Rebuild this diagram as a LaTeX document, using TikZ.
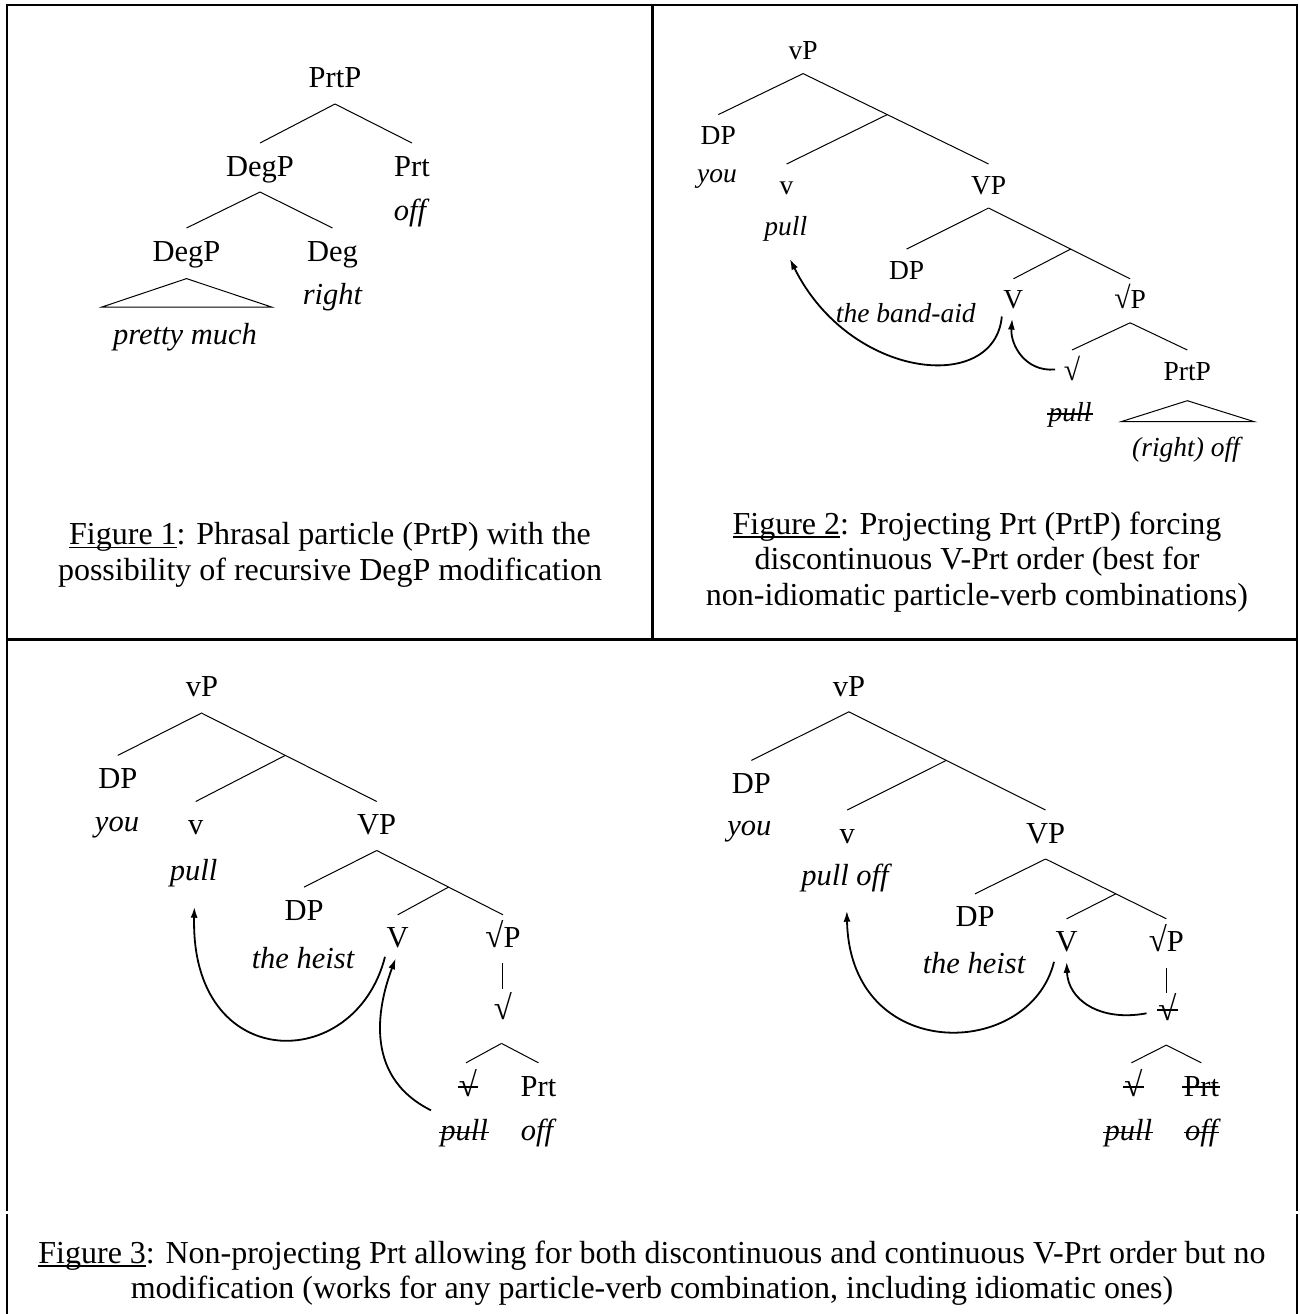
\documentclass[tikz,border=0pt]{standalone}
\usepackage{fontspec}
\setmainfont{Liberation Serif}
\usetikzlibrary{arrows.meta,calc}
\newcommand\brA[2]{\draw[branch] ($(#1.base)+(0,16)$) -- ($(#2.base)+(0,-33)$);}
\newcommand\brB[2]{\draw[branch] ($(#1.base)+(0,14)$) -- ($(#2.base)+(0,-30)$);}
\newcommand\strikeit[2]{\draw[strikel] ($(#1.base west)+(-1,-#2)$) -- ($(#1.base east)+(1,-#2)$);}
\newcommand\ulfig[1]{\setbox0\hbox{#1}\rlap{\rule[-3.5pt]{\wd0}{1.6pt}}\box0}
\newcommand\rt{\scalebox{1.08}[1.12]{√}}
\begin{document}
\begin{tikzpicture}[x=1pt,y=-1pt,
  lab/.style={inner sep=0pt,anchor=base},
  fa/.style={lab,font=\fontsize{30.5}{36}\selectfont},
  fb/.style={lab,font=\fontsize{27.5}{33}\selectfont},
  branch/.style={line width=1pt},
  strikel/.style={line width=1.6pt},
  mv/.style={line width=1.8pt,-{Latex[length=11pt,width=7pt]}},
  framel/.style={line width=2.5pt},
  divider/.style={line width=3pt},
  captext/.style={font=\fontsize{32}{35.5}\selectfont,align=center,inner sep=0pt}]
\useasboundingbox (0,0) rectangle (1299,1314);
% frame
\draw[framel] (7,1211) -- (7,5) -- (1297,5) -- (1297,1211);
\draw[framel] (7,1214) -- (7,1320);
\draw[framel] (1297,1214) -- (1297,1320);
\draw[divider] (7,639.5) -- (1297,639.5);
\draw[divider] (652.7,5) -- (652.7,639.5);

% ---------------- Figure 1 ----------------
\node[fa] (a-root) at (335,88) {PrtP};
\node[fa] (a-deg) at (260,176) {DegP};
\node[fa] (a-prt) at (412,176) {Prt};
\node[fa] (a-off) at (410,220) {\itshape off};
\node[fa] (a-deg2) at (186.5,261) {DegP};
\node[fa] (a-dg) at (332.5,261) {Deg};
\node[fa] (a-right) at (332.5,304.5) {\itshape right};
\node[fa] (a-pm) at (185,344) {\itshape pretty much};
\brA{a-root}{a-deg}
\brA{a-root}{a-prt}
\brA{a-deg}{a-deg2}
\brA{a-deg}{a-dg}
\draw[branch] ($(a-deg2.base)+(0,17.6)$) -- ++(-84.5,28.4) -- ++(169.5,0) -- cycle;
\node[captext] (cap1) at (330,555) {\ulfig{Figure 1}: Phrasal particle (PrtP) with the\\possibility of recursive DegP modification};

% ---------------- Figure 2 ----------------
\node[fb] (b-vP) at (803.1,59.6) {vP};
\node[fb] (b-DP) at (718.3,144.6) {DP};
\node[fb] (b-you) at (717,182.2) {\itshape you};
\node[fb] (b-v) at (786.6,194) {v};
\node[fb] (b-VP) at (988.6,194) {VP};
\node[fb] (b-pull) at (785.8,235.3) {\itshape pull};
\node[fb] (b-DP2) at (906.6,279.1) {DP};
\node[fb] (b-band) at (905.8,322) {\itshape the band-aid};
\node[fb] (b-V) at (1013.4,308.8) {V};
\node[fb] (b-rP) at (1130.1,308.8) {\rt P};
\node[fb] (b-r) at (1072,380) {\rt};
\node[fb] (b-PrtP) at (1187.3,380) {PrtP};
\node[fb] (b-pulls) at (1070,421) {\itshape pull};
\node[fb] (b-ro) at (1186,456) {\itshape (right) off};
\strikeit{b-pulls}{7}
\brB{b-vP}{b-DP}
\draw[branch] ($(b-vP.base)+(0,14)$) -- ($(b-VP.base)+(0,-30)$) coordinate[pos=0.4535] (b-bar1);
\draw[branch] (b-bar1) -- ($(b-v.base)+(0,-30)$);
\brB{b-VP}{b-DP2}
\draw[branch] ($(b-VP.base)+(0,14)$) -- ($(b-rP.base)+(0,-30)$) coordinate[pos=0.58] (b-bar2);
\draw[branch] (b-bar2) -- ($(b-V.base)+(0,-30)$);
\brB{b-rP}{b-r}
\brB{b-rP}{b-PrtP}
\draw[branch] ($(b-PrtP.base)+(0,20.7)$) -- ++(-66.3,21) -- ++(133.3,0) -- cycle;
\draw[mv] ($(b-V.base)+(-11.6,7.7)$) .. controls +(-7,78) and +(60,121) .. ($(b-pull.base)+(4,23.5)$);
\draw[mv] ($(b-r.base)+(-17,-10.5)$) .. controls +(-30,2.5) and +(-2,26) .. ($(b-V.base)+(-1.2,9.8)$);
\node[captext] (cap2) at (977,562) {\ulfig{Figure 2}: Projecting Prt (PrtP) forcing\\discontinuous V-Prt order (best for\\non-idiomatic particle-verb combinations)};

% ---------------- Figure 3, left ----------------
\node[fa] (c-vP) at (202,696.8) {vP};
\node[fa] (c-DP) at (117.8,788.4) {DP};
\node[fa] (c-you) at (117,831.8) {\itshape you};
\node[fa] (c-v) at (195.7,834.5) {v};
\node[fa] (c-VP) at (376.7,834.5) {VP};
\node[fa] (c-pull) at (193.6,880.3) {\itshape pull};
\node[fa] (c-DP2) at (304,920.1) {DP};
\node[fa] (c-heist) at (303,968.7) {\itshape the heist};
\node[fa] (c-V) at (397.7,947.8) {V};
\node[fa] (c-rP) at (503,947.8) {\rt P};
\node[fa] (c-r) at (503,1019.4) {\rt};
\node[fa] (c-rs) at (468,1096.8) {\rt};
\node[fa] (c-Prt) at (538.5,1096.8) {Prt};
\node[fa] (c-pulls) at (464,1140.3) {\itshape pull};
\node[fa] (c-off) at (537,1140.3) {\itshape off};
\strikeit{c-rs}{10}
\strikeit{c-pulls}{8}
\brA{c-vP}{c-DP}
\draw[branch] ($(c-vP.base)+(0,16.5)$) -- ($(c-VP.base)+(0,-33)$) coordinate[pos=0.477] (c-bar1);
\draw[branch] (c-bar1) -- ($(c-v.base)+(0,-33)$);
\brA{c-VP}{c-DP2}
\draw[branch] ($(c-VP.base)+(0,16)$) -- ($(c-rP.base)+(0,-33)$) coordinate[pos=0.569] (c-bar2);
\draw[branch] (c-bar2) -- ($(c-V.base)+(0,-33)$);
\draw[branch] ($(c-rP.base)+(-1,15)$) -- ($(c-r.base)+(-1,-30)$);
\draw[branch] ($(c-r.base)+(-1.5,24)$) -- ($(c-rs.base)+(-2,-34)$);
\draw[branch] ($(c-r.base)+(-1.5,24)$) -- ($(c-Prt.base)+(0,-34)$);
\draw[mv] ($(c-V.base)+(-12.7,9)$) .. controls +(-30,118) and +(-4.4,168) .. ($(c-pull.base)+(0.8,26.4)$);
\draw[mv] ($(c-pulls.base)+(-33,-30)$) .. controls +(-71,-35.3) and +(-15.7,41.7) .. ($(c-V.base)+(-2,10.5)$);

% ---------------- Figure 3, right ----------------
\node[fa] (d-vP) at (848.9,696.8) {vP};
\node[fa] (d-DP) at (751.4,793.4) {DP};
\node[fa] (d-you) at (749.3,835.2) {\itshape you};
\node[fa] (d-v) at (847.2,843) {v};
\node[fa] (d-VP) at (1045.6,843) {VP};
\node[fa] (d-pulloff) at (845,885.3) {\itshape pull off};
\node[fa] (d-DP2) at (975,926.8) {DP};
\node[fa] (d-heist) at (974,973.7) {\itshape the heist};
\node[fa] (d-V) at (1066.6,951.8) {V};
\node[fa] (d-rP) at (1166.3,951.8) {\rt P};
\node[fa] (d-r) at (1167.5,1020.1) {\rt};
\node[fa] (d-rs) at (1133.4,1096.8) {\rt};
\node[fa] (d-Prt) at (1201.3,1096.8) {Prt};
\node[fa] (d-pulls) at (1128.4,1140.3) {\itshape pull};
\node[fa] (d-offs) at (1201.3,1140.3) {\itshape off};
\strikeit{d-r}{10}
\strikeit{d-rs}{10}
\strikeit{d-Prt}{10}
\strikeit{d-pulls}{8}
\strikeit{d-offs}{8}
\draw[branch] ($(d-vP.base)+(0,15)$) -- ($(d-DP.base)+(0,-33)$);
\draw[branch] ($(d-vP.base)+(0,15)$) -- ($(d-VP.base)+(0,-33)$) coordinate[pos=0.495] (d-bar1);
\draw[branch] (d-bar1) -- ($(d-v.base)+(0,-33)$);
\brA{d-VP}{d-DP2}
\draw[branch] ($(d-VP.base)+(0,16)$) -- ($(d-rP.base)+(0,-33)$) coordinate[pos=0.582] (d-bar2);
\draw[branch] (d-bar2) -- ($(d-V.base)+(0,-33)$);
\draw[branch] ($(d-rP.base)+(0,16.5)$) -- ($(d-r.base)+(-1.2,-27)$);
\draw[branch] ($(d-r.base)+(-1.2,25)$) -- ($(d-rs.base)+(-2,-34)$);
\draw[branch] ($(d-r.base)+(-1.2,25)$) -- ($(d-Prt.base)+(0,-34)$);
\draw[mv] ($(d-V.base)+(-12.6,10)$) .. controls +(-24,98.2) and +(3.2,154.3) .. ($(d-pulloff.base)+(1.8,25.4)$);
\draw[mv] ($(d-r.base)+(-21,-6.8)$) .. controls +(-46.5,8.7) and +(1.4,38.2) .. ($(d-V.base)+(0,10)$);

\node[captext] (cap3) at (652,1273) {\ulfig{Figure 3}: Non-projecting Prt allowing for both discontinuous and continuous V-Prt order but no\\modification (works for any particle-verb combination, including idiomatic ones)};
\end{tikzpicture}
\end{document}
